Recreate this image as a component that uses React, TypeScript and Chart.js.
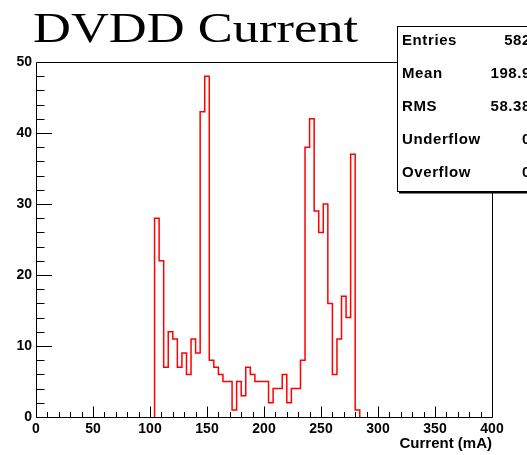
import React, { useEffect, useRef } from 'react';
import { Chart, registerables } from 'chart.js';

Chart.register(...registerables);

// ---- data ----
const chartTitle = 'DVDD Current';
const xAxisTitle = 'Current (mA)';
const xMin = 0;
const xMax = 400;
const yMin = 0;
const yMax = 50;
const xMajorStep = 50;
const xMinorStep = 10;
const yMajorStep = 10;
const yMinorStep = 2;
const binStart = 104;
const binWidth = 4;
const binCounts = [
  28, 22, 7, 12, 11, 7, 9, 6, 11, 9,
  43, 48, 8, 7, 6, 5, 5, 1, 5, 3,
  7, 6, 5, 5, 5, 2, 4, 4, 6, 2,
  4, 4, 8, 38, 42, 29, 26, 30, 16, 6,
  11, 17, 14, 37, 1,
];
const statsLabels = ['Entries', 'Mean', 'RMS', 'Underflow', 'Overflow'];
const statsValues = ['582', '198.9', '58.38', '0', '0'];

const SANS = '"Liberation Sans", Arial, Helvetica, sans-serif';
const SERIF = '"Liberation Serif", "Times New Roman", serif';

function buildSteps() {
  const pts: { x: number; y: number }[] = [{ x: binStart, y: 0 }];
  binCounts.forEach((c, i) => pts.push({ x: binStart + i * binWidth, y: c }));
  pts.push({ x: binStart + binCounts.length * binWidth, y: 0 });
  return pts;
}

const rootPlugin = {
  id: 'rootStyle',
  afterDatasetsDraw(chart: any) {
    const { ctx, chartArea: a, scales } = chart;
    const x = scales.x;
    const y = scales.y;
    ctx.save();
    ctx.strokeStyle = '#000';
    ctx.lineWidth = 1;
    const L = Math.round(a.left) + 0.5;
    const T = Math.round(a.top) + 0.5;
    const R = Math.round(a.right) + 0.5;
    const B = Math.round(a.bottom) + 0.5;
    ctx.beginPath();
    ctx.moveTo(L, T);
    ctx.lineTo(R, T);
    ctx.lineTo(R, B);
    ctx.lineTo(L, B);
    ctx.closePath();
    ctx.stroke();
    ctx.beginPath();
    for (let v = xMin; v <= xMax + 1e-9; v += xMinorStep) {
      const px = Math.round(x.getPixelForValue(v)) + 0.5;
      const len = v % xMajorStep === 0 ? 11 : 5.5;
      ctx.moveTo(px, B);
      ctx.lineTo(px, B - len);
    }
    for (let v = yMin; v <= yMax + 1e-9; v += yMinorStep) {
      const py = Math.round(y.getPixelForValue(v)) + 0.5;
      const len = v % yMajorStep === 0 ? 15.5 : 8;
      ctx.moveTo(L, py);
      ctx.lineTo(L + len, py);
    }
    ctx.stroke();
    ctx.restore();
  },
  afterDraw(chart: any) {
    const { ctx } = chart;
    ctx.save();
    // stats box
    const bx = 397, by = 26, bw = 300, bh = 165;
    ctx.fillStyle = '#fff';
    ctx.fillRect(bx, by, bw, bh);
    ctx.strokeStyle = '#000';
    ctx.lineWidth = 1;
    ctx.strokeRect(bx + 0.5, by + 0.5, bw, bh);
    ctx.fillStyle = '#000';
    ctx.fillRect(bx + 2, by + bh + 1, bw, 1.5);
    ctx.font = `bold 15px ${SANS}`;
    try { (ctx as any).letterSpacing = '0.6px'; } catch (e) {}
    ctx.textBaseline = 'middle';
    statsLabels.forEach((lab, i) => {
      const ty = 41 + i * 33;
      ctx.textAlign = 'left';
      ctx.fillText(lab, 402, ty);
      ctx.textAlign = 'right';
      ctx.fillText(statsValues[i], 531, ty);
    });
    try { (ctx as any).letterSpacing = '0px'; } catch (e) {}
    // title
    ctx.font = `43px ${SERIF}`;
    ctx.textAlign = 'left';
    ctx.textBaseline = 'alphabetic';
    const w = ctx.measureText(chartTitle).width;
    const targetW = 325;
    ctx.translate(33, 42);
    ctx.scale(targetW / w, 1);
    ctx.fillText(chartTitle, 0, 0);
    ctx.restore();
  },
};

export default function App() {
  const ref = useRef<HTMLCanvasElement>(null);
  useEffect(() => {
    if (!ref.current) return;
    const chart = new Chart(ref.current, {
      type: 'line',
      data: {
        datasets: [
          {
            data: buildSteps(),
            stepped: 'before',
            borderColor: '#ff0000',
            borderWidth: 1.5,
            pointRadius: 0,
            fill: false,
          },
        ],
      },
      options: {
        responsive: false,
        animation: false,
        devicePixelRatio: 1,
        layout: { padding: { top: 62, right: 35, left: 0, bottom: 0 } },
        plugins: {
          legend: { display: false },
          tooltip: { enabled: false },
          title: { display: false },
        },
        scales: {
          x: {
            type: 'linear',
            min: xMin,
            max: xMax,
            grid: { display: false, drawTicks: false },
            border: { display: false },
            ticks: {
              stepSize: xMajorStep,
              autoSkip: false,
              maxRotation: 0,
              padding: 4,
              color: '#000',
              font: { family: SANS, size: 14, weight: 'bold' },
            },
            title: {
              display: true,
              text: xAxisTitle,
              align: 'end',
              color: '#000',
              font: { family: SANS, size: 15, weight: 'bold' },
              padding: { top: 0, bottom: 2 },
            },
            afterFit: (s: any) => { s.height = 38; },
          },
          y: {
            min: yMin,
            max: yMax,
            grid: { display: false, drawTicks: false },
            border: { display: false },
            ticks: {
              stepSize: yMajorStep,
              padding: 4,
              color: '#000',
              font: { family: SANS, size: 14, weight: 'bold' },
            },
            afterFit: (s: any) => { s.width = 36; },
          },
        },
      },
      plugins: [rootPlugin],
    } as any);
    return () => chart.destroy();
  }, []);
  return (
    <div style={{ position: 'absolute', left: 0, top: 0, width: 527, height: 455 }}>
      <canvas ref={ref} width={527} height={455} style={{ width: 527, height: 455, display: 'block' }} />
    </div>
  );
}
